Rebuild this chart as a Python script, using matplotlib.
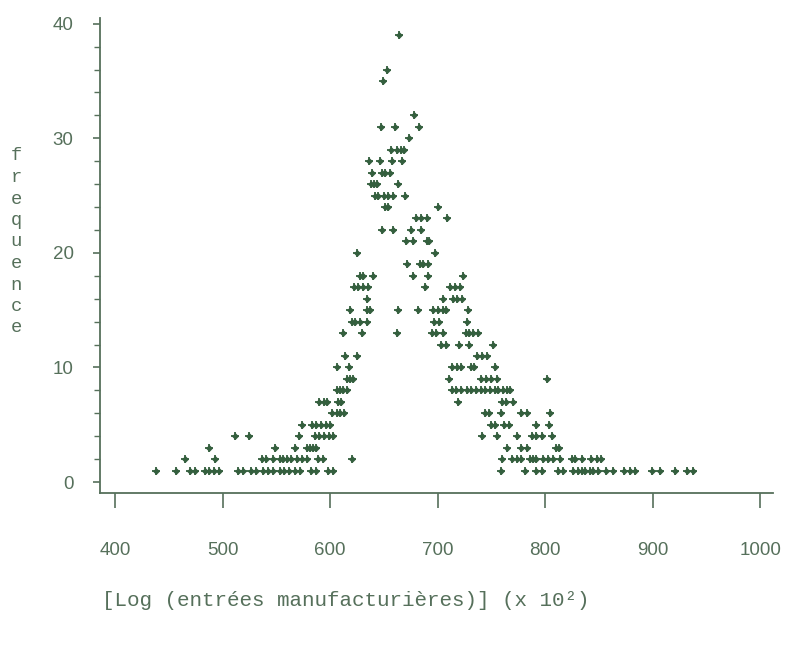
import matplotlib
matplotlib.use("Agg")
import matplotlib.pyplot as plt
from matplotlib.ticker import MultipleLocator

# Log des entrees manufacturieres (x 10^2) pour chaque niveau de frequence
f1 = [438, 457, 470, 474, 484, 487, 492, 497, 514, 519, 526, 531, 538, 542, 547,
      553, 557, 562, 567, 572, 582, 587, 598, 603, 759, 781, 792, 797, 812, 817,
      826, 831, 834, 837, 842, 845, 849, 857, 863, 873, 879, 884, 899, 907, 921,
      932, 938]
f2 = [465, 493, 537, 540, 547, 553, 556, 560, 564, 569, 574, 579, 589, 593, 620,
      760, 769, 774, 778, 786, 789, 792, 798, 803, 807, 814, 825, 828, 834, 843,
      848, 852]
f3 = [487, 549, 567, 579, 581, 584, 587, 765, 778, 783, 810, 813]
f4 = [512, 525, 571, 586, 590, 594, 599, 603, 741, 755, 774, 788, 792, 797, 806]
f5 = [574, 583, 587, 592, 596, 600, 750, 753, 762, 766, 792, 804]
f6 = [602, 606, 609, 613, 744, 748, 759, 778, 783, 805]
f7 = [590, 594, 597, 607, 610, 719, 760, 764, 770]
f8 = [606, 609, 612, 616, 713, 717, 722, 727, 731, 736, 740, 744, 749, 753, 756,
      761, 765, 767]
f9 = [616, 619, 621, 711, 740, 745, 750, 755, 802]
f10 = [606, 618, 713, 718, 722, 731, 734, 753]
f11 = [614, 625, 737, 741, 746]
f12 = [703, 708, 720, 729, 752]
f13 = [612, 630, 662, 695, 699, 705, 726, 729, 733, 738]
f14 = [620, 623, 628, 634, 697, 701, 727]
f15 = [619, 634, 637, 663, 682, 696, 700, 705, 708, 728]
f16 = [634, 705, 714, 718, 723]
f17 = [622, 626, 631, 635, 688, 712, 716, 721]
f18 = [628, 631, 640, 677, 691, 724]
f19 = [672, 684, 686, 691]
f20 = [625, 698]
f21 = [671, 677, 690, 692]
f22 = [648, 659, 675, 685]
f23 = [680, 685, 690, 709]
f24 = [651, 654, 700]
f25 = [642, 645, 650, 654, 659, 670]
f26 = [638, 641, 644, 663]
f27 = [639, 648, 651, 656]
f28 = [636, 646, 658, 667]
f29 = [657, 662, 666, 669]
f30 = [673]
f31 = [647, 660, 683]
f32 = [678]
f35 = [649]
f36 = [653]
f39 = [664]

niveaux = {1: f1, 2: f2, 3: f3, 4: f4, 5: f5, 6: f6, 7: f7, 8: f8, 9: f9,
           10: f10, 11: f11, 12: f12, 13: f13, 14: f14, 15: f15, 16: f16,
           17: f17, 18: f18, 19: f19, 20: f20, 21: f21, 22: f22, 23: f23,
           24: f24, 25: f25, 26: f26, 27: f27, 28: f28, 29: f29, 30: f30,
           31: f31, 32: f32, 35: f35, 36: f36, 39: f39}

xs, ys = [], []
for freq, valeurs in niveaux.items():
    xs += valeurs
    ys += [freq] * len(valeurs)

x_ticks = [400, 500, 600, 700, 800, 900, 1000]
y_ticks = [0, 10, 20, 30, 40]

vert = "#345f3e"
gris = "#56705b"

fig = plt.figure(figsize=(7.94, 6.49), dpi=100)
ax = fig.add_axes([100 / 794, 156 / 649, 673 / 794, 475 / 649])

# chaque point : une croix avec un petit losange plein au centre
ax.scatter(xs, ys, marker="+", s=26, linewidths=1.3, color=vert, zorder=3)
ax.scatter(xs, ys, marker="D", s=13, linewidths=0, color=vert, zorder=3)

ax.set_xlim(386, 1012)
ax.set_ylim(-0.96, 40.5)

for s in ["top", "right"]:
    ax.spines[s].set_visible(False)
for s in ["left", "bottom"]:
    ax.spines[s].set_color(gris)
    ax.spines[s].set_linewidth(1.3)

ax.set_xticks(x_ticks)
ax.set_yticks(y_ticks)
ax.yaxis.set_minor_locator(MultipleLocator(2))
ax.tick_params(axis="x", direction="out", length=11, width=1.2, pad=24,
               colors=gris, labelsize=13.5)
ax.tick_params(axis="y", which="major", direction="out", length=5, width=1.2,
               pad=14, colors=gris, labelsize=13.5)
ax.tick_params(axis="y", which="minor", direction="out", length=4, width=1.0,
               colors=gris)
for lab in ax.get_xticklabels() + ax.get_yticklabels():
    lab.set_fontfamily("Liberation Sans")

# titre vertical lettre par lettre
mot = "frequence"
for i, lettre in enumerate(mot):
    fig.text(16 / 794, 1 - (156 + 21.5 * i) / 649, lettre, ha="center",
             va="center", fontsize=13.5, family="Liberation Mono", color=gris)

fig.text(346 / 794, 1 - 600 / 649,
         "[Log (entrées manufacturières)] (x 10²)",
         ha="center", va="center", fontsize=15, family="Liberation Mono",
         color=gris)

fig.savefig("out.png", dpi=100, facecolor="white")
